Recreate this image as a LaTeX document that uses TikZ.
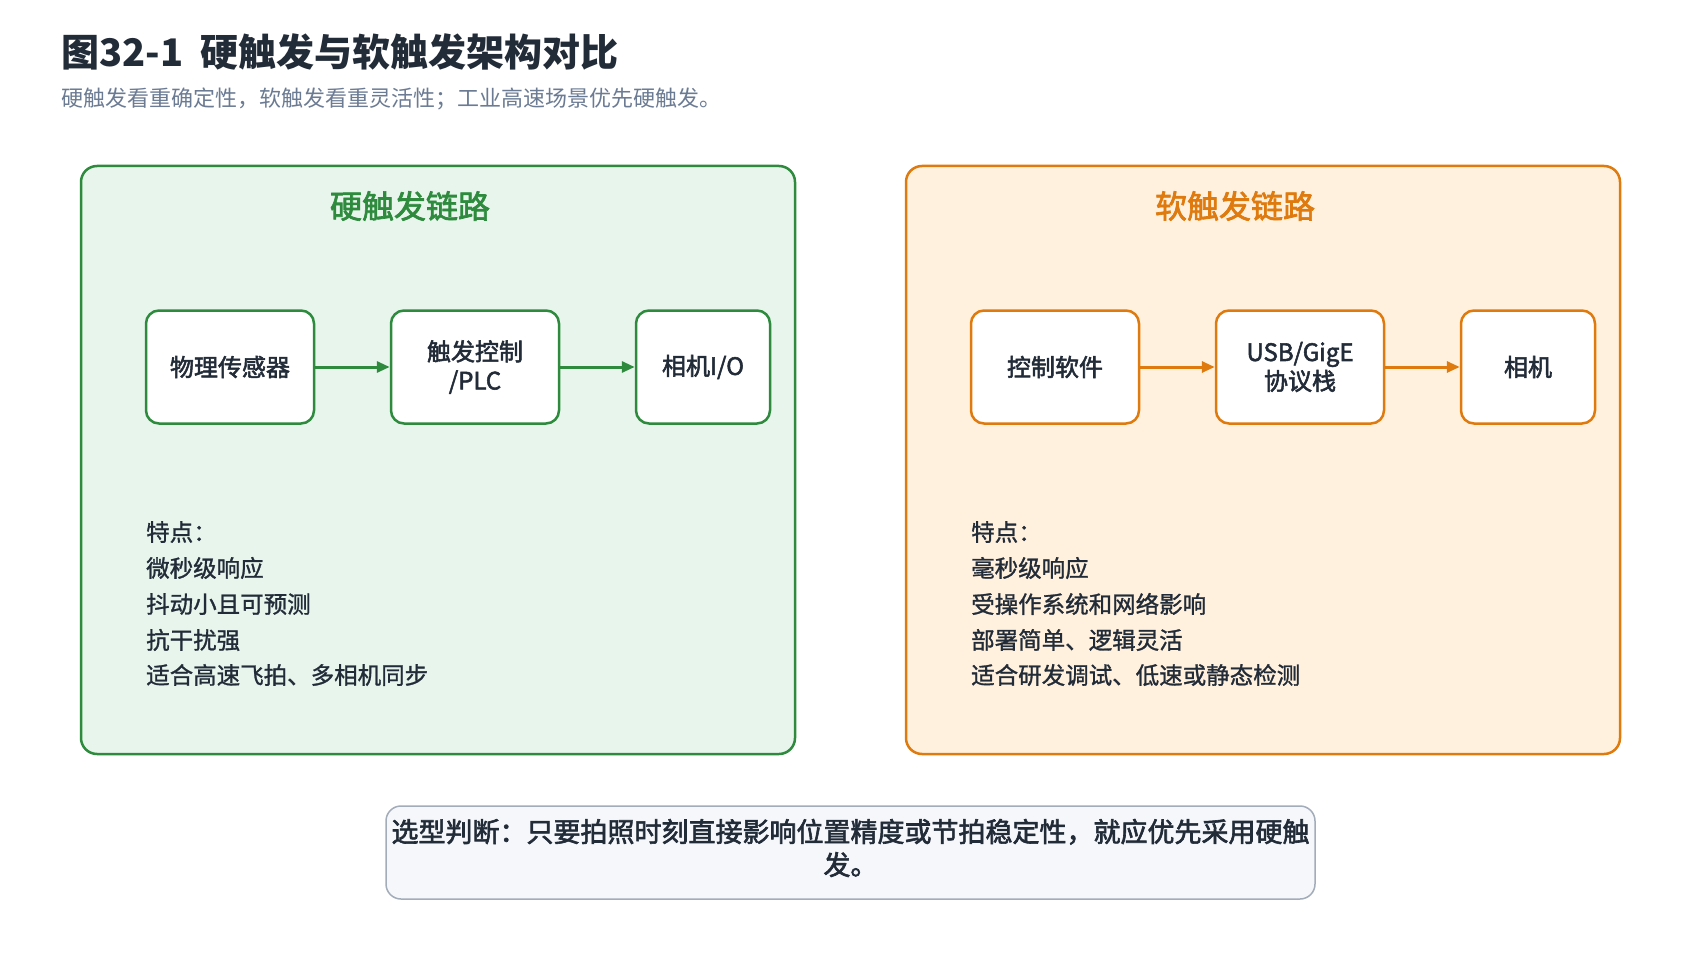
\documentclass[tikz,border=0pt]{standalone}
\usepackage{fontspec}
\setmainfont{Noto Sans CJK SC}
\newfontfamily\cjkmedium{Noto Sans CJK SC}[FakeBold=1.2]
\newfontfamily\cjksemi{Noto Sans CJK SC}[FakeBold=2.2]
\usetikzlibrary{arrows.meta}

\definecolor{hardline}{HTML}{2E8B3E}
\definecolor{hardfill}{HTML}{E8F5EC}
\definecolor{softline}{HTML}{DE7A0E}
\definecolor{softfill}{HTML}{FFF1DE}
\definecolor{notefill}{HTML}{F5F7FB}
\definecolor{noteline}{HTML}{A3ACB9}
\definecolor{textdark}{HTML}{222B38}
\definecolor{textgray}{HTML}{6B7B93}

\tikzset{
	panel/.style={rounded corners=16pt, line width=2.5pt},
	paneltitle/.style={font=\fontsize{32}{36}\selectfont\cjksemi},
	stepbox/.style={draw, fill=white, rounded corners=13pt, line width=2.5pt,
		minimum height=113pt, inner sep=0pt, align=center, text=textdark,
		font=\fontsize{24}{29}\selectfont\cjksemi},
	feat/.style={anchor=west, inner sep=0pt, text=textdark,
		font=\fontsize{23.5}{28}\selectfont\cjkmedium},
	flow/.style={line width=3pt, -{Triangle[length=13pt,width=11pt]}}
}

\begin{document}
\begin{tikzpicture}[x=1pt, y=-1pt]

	\useasboundingbox[fill=white] (0,0) rectangle (1700,960);

	% title
	\node[anchor=west, inner sep=0pt, text=textdark, font=\fontsize{38}{44}\selectfont\bfseries]
		(title) at (61,52) {图32-1\ \ 硬触发与软触发架构对比};
	\node[anchor=west, inner sep=0pt, text=textgray, font=\fontsize{22}{26}\selectfont]
		(subtitle) at (61,99) {硬触发看重确定性，软触发看重灵活性；工业高速场景优先硬触发。};

	% hard trigger
	\draw[panel, draw=hardline, fill=hardfill] (81,166) rectangle (795,754);
	\node[paneltitle, text=hardline] (hardtitle) at (410,206) {硬触发链路};

	\node[stepbox, draw=hardline, minimum width=168pt] (sensor) at (230,367) {物理传感器};
	\node[stepbox, draw=hardline, minimum width=168pt] (plc) at (475,367) {触发控制\\/PLC};
	\node[stepbox, draw=hardline, minimum width=134pt] (camio) at (703,367) {相机I/O};

	\draw[flow, hardline] (sensor) -- (plc);
	\draw[flow, hardline] (plc) -- (camio);

	\node[feat] (hfeat0) at (146,532) {特点：};
	\node[feat] (hfeat1) at (146,568) {微秒级响应};
	\node[feat] (hfeat2) at (146,604) {抖动小且可预测};
	\node[feat] (hfeat3) at (146,640) {抗干扰强};
	\node[feat] (hfeat4) at (146,675) {适合高速飞拍、多相机同步};

	% soft trigger
	\draw[panel, draw=softline, fill=softfill] (906,166) rectangle (1620,754);
	\node[paneltitle, text=softline] (softtitle) at (1235,206) {软触发链路};

	\node[stepbox, draw=softline, minimum width=168pt] (ctrlsw) at (1055,367) {控制软件};
	\node[stepbox, draw=softline, minimum width=168pt] (stack) at (1300,367) {USB/GigE\\协议栈};
	\node[stepbox, draw=softline, minimum width=134pt] (cam) at (1528,367) {相机};

	\draw[flow, softline] (ctrlsw) -- (stack);
	\draw[flow, softline] (stack) -- (cam);

	\node[feat] (sfeat0) at (971,532) {特点：};
	\node[feat] (sfeat1) at (971,568) {毫秒级响应};
	\node[feat] (sfeat2) at (971,604) {受操作系统和网络影响};
	\node[feat] (sfeat3) at (971,640) {部署简单、逻辑灵活};
	\node[feat] (sfeat4) at (971,675) {适合研发调试、低速或静态检测};

	% selection note
	\node[draw=noteline, fill=notefill, line width=1.5pt, rounded corners=15pt,
		minimum width=929pt, minimum height=93pt, inner sep=0pt]
		(note) at (850.5,852.5) {};
	\node[align=center, inner sep=0pt, text=textdark,
		font=\fontsize{27}{33}\selectfont\cjksemi]
		(notetext) at ([yshift=4.5pt]note.center)
		{选型判断：只要拍照时刻直接影响位置精度或节拍稳定性，就应优先采用硬触\\发。};

\end{tikzpicture}
\end{document}
